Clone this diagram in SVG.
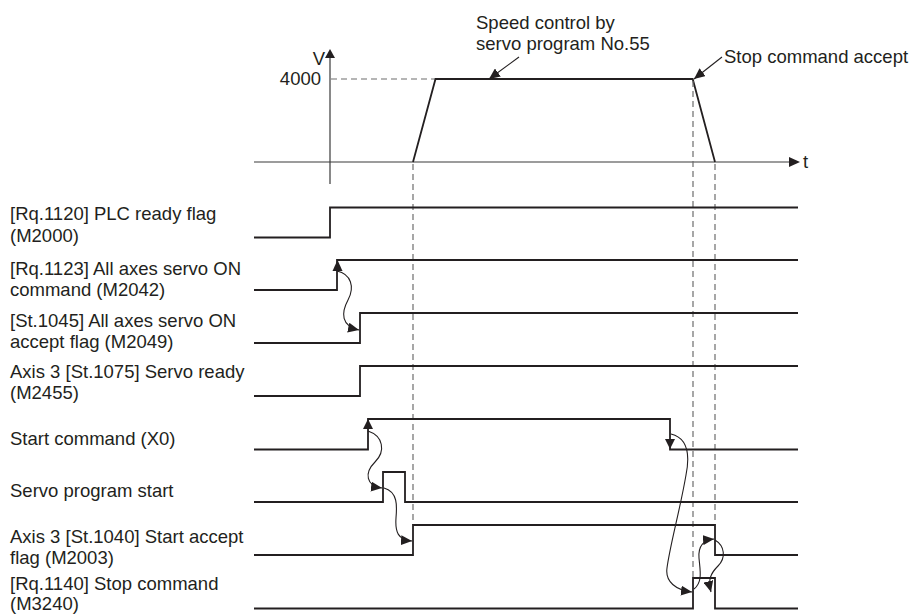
<svg xmlns="http://www.w3.org/2000/svg" width="912" height="614" viewBox="0 0 912 614">
<style>
.lbl{font-family:"Liberation Sans",Arial,sans-serif;font-size:18.5px;fill:#231f20}
.sig{fill:none;stroke:#231f20;stroke-width:1.8}
.ax{fill:none;stroke:#3a3a3a;stroke-width:1.2}
.dash{fill:none;stroke:#6d6d6d;stroke-width:1.2;stroke-dasharray:6 4}
.crv{fill:none;stroke:#231f20;stroke-width:1.1}
.head{fill:#231f20}
</style>
<defs>
<marker id="ah" markerUnits="userSpaceOnUse" markerWidth="11" markerHeight="10" refX="11" refY="5" orient="auto">
<path d="M0,0 L11,5 L0,10 z" fill="#231f20"/>
</marker>
</defs>
<rect width="912" height="614" fill="#ffffff"/>

<g id="speed-graph">
<line class="ax" x1="254" y1="162" x2="790" y2="162"/>
<polygon class="head" points="800,162 789,157 789,167"/>
<line class="ax" x1="330" y1="184" x2="330" y2="58"/>
<polygon class="head" points="330,49 325,58 335,58"/>
<line class="dash" x1="331" y1="79" x2="435" y2="79"/>
<polyline class="sig" points="413,162 435.5,79 692.7,79 715,162"/>
<text class="lbl" x="325" y="65" text-anchor="end">V</text>
<text class="lbl" x="321" y="85" text-anchor="end">4000</text>
<text class="lbl" x="803" y="168">t</text>
<text class="lbl" x="476" y="29">Speed control by</text>
<text class="lbl" x="476" y="50">servo program No.55</text>
<text class="lbl" x="724" y="63">Stop command accept</text>
</g>

<g id="guides">
<line class="dash" x1="413" y1="164" x2="413" y2="525"/>
<line class="dash" x1="693" y1="81" x2="693" y2="578"/>
<line class="dash" x1="715" y1="164" x2="715" y2="525"/>
</g>

<g id="sig-plc-ready">
<text class="lbl" x="10" y="220">[Rq.1120] PLC ready flag</text>
<text class="lbl" x="10" y="242">(M2000)</text>
<polyline class="sig" points="254,237.5 330,237.5 330,207.5 798,207.5"/>
</g>
<g id="sig-servo-on-cmd">
<text class="lbl" x="10" y="275">[Rq.1123] All axes servo ON</text>
<text class="lbl" x="10" y="296">command (M2042)</text>
<polyline class="sig" points="254,290 337,290 337,260 798,260"/>
</g>
<g id="sig-servo-on-accept">
<text class="lbl" x="10" y="327">[St.1045] All axes servo ON</text>
<text class="lbl" x="10" y="348">accept flag (M2049)</text>
<polyline class="sig" points="254,343 360,343 360,313 798,313"/>
</g>
<g id="sig-servo-ready">
<text class="lbl" x="10" y="378">Axis 3 [St.1075] Servo ready</text>
<text class="lbl" x="10" y="399">(M2455)</text>
<polyline class="sig" points="254,396 360,396 360,366 798,366"/>
</g>
<g id="sig-start-cmd">
<text class="lbl" x="10" y="445">Start command (X0)</text>
<polyline class="sig" points="254,449.5 368,449.5 368,419 670,419 670,449.5 798,449.5"/>
</g>
<g id="sig-servo-prog-start">
<text class="lbl" x="10" y="497">Servo program start</text>
<polyline class="sig" points="254,502 383,502 383,472 405,472 405,502 798,502"/>
</g>
<g id="sig-start-accept">
<text class="lbl" x="10" y="543">Axis 3 [St.1040] Start accept</text>
<text class="lbl" x="10" y="564">flag (M2003)</text>
<polyline class="sig" points="254,555 413,555 413,525 715,525 715,555 798,555"/>
</g>
<g id="sig-stop-cmd">
<text class="lbl" x="10" y="590">[Rq.1140] Stop command</text>
<text class="lbl" x="10" y="610">(M3240)</text>
<polyline class="sig" points="254,608.5 693,608.5 693,578 715,578 715,608.5 798,608.5"/>
</g>

<g id="connectors">
<line class="crv" x1="519" y1="57" x2="489" y2="79" marker-end="url(#ah)"/>
<line class="crv" x1="722" y1="57" x2="694" y2="79" marker-end="url(#ah)"/>
<polygon class="head" points="337.5,260 332.5,271 342.5,271"/>
<path class="crv" d="M337,271 C351,274 355,287 348,300 C341,313 341,326 359,330" marker-end="url(#ah)"/>
<polygon class="head" points="368,419 363,429 373,429"/>
<path class="crv" d="M368,431 C383,436 386,451 375,462 C364,473 366,486 382,488" marker-end="url(#ah)"/>
<path class="crv" d="M384,488 C398,492 397,506 396,518 C395,532 398,540 412,541" marker-end="url(#ah)"/>
<polygon class="head" points="670,449 665,439 675,439"/>
<path class="crv" d="M671,434 C688,438 690,455 686,475 C680,510 670,545 667,568 C665,582 676,590 692,592" marker-end="url(#ah)"/>
<path class="crv" d="M694,589 C703,582 700,570 699,558 C698,546 704,540 714,539" marker-end="url(#ah)"/>
<path class="crv" d="M715,540 C725,546 726,558 718,566 C710,574 708,580 711,592" marker-end="url(#ah)"/>
</g>
</svg>
